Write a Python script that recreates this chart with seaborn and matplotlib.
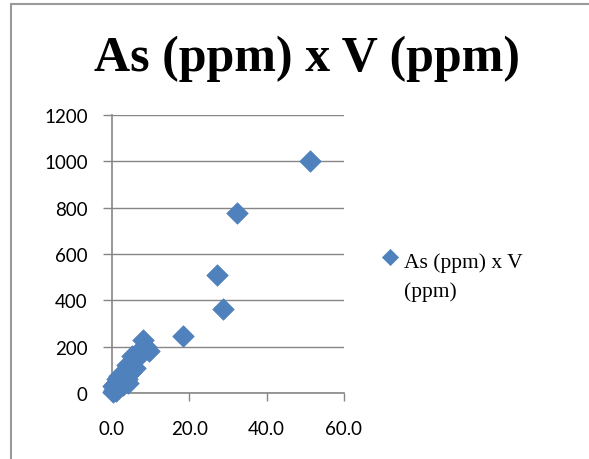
import pandas as pd
import matplotlib.pyplot as plt
import seaborn as sns
from matplotlib.lines import Line2D
from matplotlib.collections import PathCollection
from matplotlib.legend_handler import HandlerPathCollection

# As (ppm) x V (ppm)
as_ppm = [0.2, 0.5, 0.3, 1.0, 1.5, 0.8, 2.0, 1.2, 2.5, 3.0, 2.8, 3.5, 4.0, 4.2,
          4.5, 3.8, 5.0, 5.5, 6.0, 5.2, 6.5, 7.0, 7.5, 8.0, 8.8, 9.5, 1.8,
          18.4, 27.1, 28.6, 32.4, 51.2]
v_ppm = [5, 15, 30, 10, 20, 40, 40, 60, 70, 50, 35, 80, 60, 45,
         100, 120, 90, 140, 110, 160, 150, 170, 190, 230, 200, 180, 75,
         247, 510, 361, 775, 1000]

df = pd.DataFrame({"As": as_ppm, "V": v_ppm})

sns.set_style("white")
plt.rcParams["font.family"] = ["Liberation Serif", "DejaVu Serif"]
plt.rcParams["text.color"] = "black"
plt.rcParams["xtick.labelcolor"] = "black"
plt.rcParams["ytick.labelcolor"] = "black"

fig = plt.figure(figsize=(5.89, 4.6), dpi=100)
ax = fig.add_axes([0.190, 0.1435, 0.394, 0.6045])

sns.scatterplot(data=df, x="As", y="V", marker="D", s=120, color="#4F81BD",
                edgecolor="#4F81BD", linewidth=0.5, ax=ax, clip_on=False,
                label="As (ppm) x V\n(ppm)", zorder=3)

ax.set_xlim(0, 60)
ax.set_ylim(0, 1200)
ax.set_xticks([0, 20, 40, 60])
ax.set_xticklabels(["0.0", "20.0", "40.0", "60.0"])
ax.set_yticks(range(0, 1201, 200))
ax.yaxis.grid(True, color="#868686", linewidth=1)
ax.set_axisbelow(True)
ax.set_xlabel("")
ax.set_ylabel("")
for side in ["top", "right"]:
    ax.spines[side].set_visible(False)
for side in ["left", "bottom"]:
    ax.spines[side].set_color("#868686")
    ax.spines[side].set_linewidth(1.2)
ax.tick_params(axis="y", length=6.5, width=1, color="#868686", pad=11)
ax.tick_params(axis="x", length=5.5, width=1, color="#868686", pad=14)
ax.tick_params(axis="both", labelsize=13.5, labelcolor="black",
               direction="out", bottom=True, left=True)
for lab in ax.get_xticklabels() + ax.get_yticklabels():
    lab.set_fontfamily(["Lato", "DejaVu Sans"])

fig.text(0.522, 0.873, "As (ppm) x V (ppm)", ha="center", va="center",
         fontsize=36, fontweight="bold", color="black")

leg = ax.legend(loc="upper left", bbox_to_anchor=(0.63, 0.468),
                bbox_transform=fig.transFigure, frameon=False, fontsize=15.5,
                handletextpad=0.15, handlelength=1.0, markerscale=0.75,
                borderaxespad=0, labelcolor="black",
                handler_map={PathCollection: HandlerPathCollection(yoffsets=[1.75])})
for t in leg.get_texts():
    t.set_linespacing(1.6)

# chart border
fig.add_artist(Line2D([0.019, 1], [0.989, 0.989], color="#999999", lw=1.5,
                      transform=fig.transFigure))
fig.add_artist(Line2D([0.019, 0.019], [0, 0.989], color="#999999", lw=1.5,
                      transform=fig.transFigure))

fig.savefig("out.png", dpi=100)
